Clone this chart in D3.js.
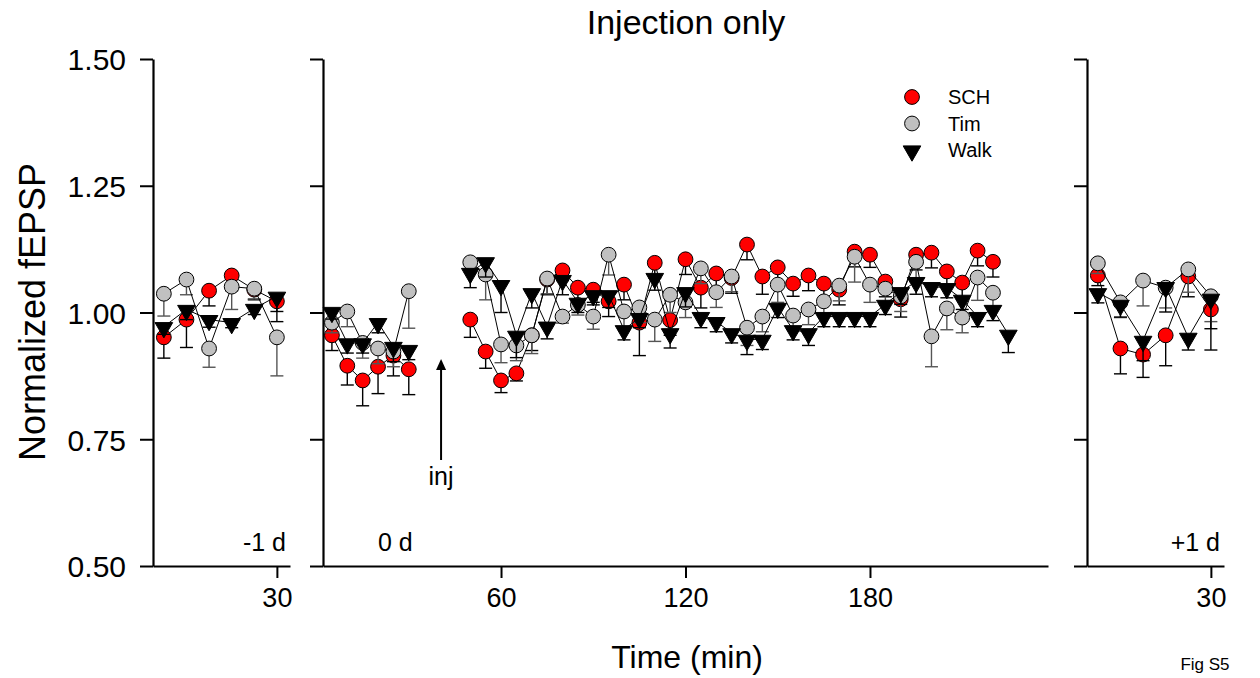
<!DOCTYPE html>
<html>
<head>
<meta charset="utf-8">
<script src="https://d3js.org/d3.v7.min.js"></script>
<style>
	body { margin: 0; background: #fff; }
	text { font-family: Arial, "Liberation Sans", sans-serif; fill: #000; }
</style>
</head>
<body>
<div id="chart"></div>
<script>

///////////////////////////////////////////////////////////////////////////
//////////////////////////////// Data /////////////////////////////////////
///////////////////////////////////////////////////////////////////////////

var seriesNames = ["SCH", "Tim", "Walk"];
var yTicks = [0.50, 0.75, 1.00, 1.25, 1.50];
var midTicks = [60, 120, 180];
var sideTicks = [30];

//baseline minutes (day -1, day 0 before injection, day +1)
var tBase = [5, 10, 15, 20, 25, 30];
//minutes after injection on day 0
var tPostSCH = [50, 55, 60, 65, 70, 75, 80, 85, 90, 95, 100, 105, 110, 115, 120, 125, 130, 135, 140, 145, 150, 155, 160, 165, 170, 175, 180, 185, 190, 195, 200, 205, 210, 215, 220];
var tPostTim = tPostSCH;
var tPostWalk = [50, 55, 60, 65, 70, 75, 80, 85, 90, 95, 100, 105, 110, 115, 120, 125, 130, 135, 140, 145, 150, 155, 160, 165, 170, 175, 180, 185, 190, 195, 200, 205, 210, 215, 220, 225];

//day -1
var dm1SCH = [0.951, 0.986, 1.043, 1.073, 1.045, 1.022];
var dm1SCHerr = [0.041, 0.055, 0.030, 0.030, 0.020, 0.040];
var dm1Tim = [1.037, 1.065, 0.929, 1.051, 1.047, 0.951];
var dm1TimErr = [0.044, 0.030, 0.037, 0.045, 0.020, 0.076];
var dm1Walk = [0.972, 1.006, 0.986, 0.980, 1.008, 1.032];
var dm1WalkErr = [0.015, 0.020, 0.015, 0.010, 0.012, 0.030];

//day 0, before injection
var d0preSCH = [0.955, 0.895, 0.866, 0.893, 0.915, 0.888];
var d0preSCHerr = [0.030, 0.038, 0.050, 0.053, 0.040, 0.050];
var d0preTim = [0.980, 1.002, 0.940, 0.929, 0.923, 1.042];
var d0preTimErr = [0.020, 0.030, 0.030, 0.030, 0.030, 0.073];
var d0preWalk = [1.002, 0.940, 0.940, 0.980, 0.933, 0.927];
var d0preWalkErr = [0.015, 0.020, 0.020, 0.020, 0.030, 0.020];

//day 0, after injection
var d0postSCH = [0.986, 0.923, 0.866, 0.880, 0.955, 1.065, 1.083, 1.049, 1.045, 1.022, 1.055, 0.980, 1.098, 0.985, 1.105, 1.049, 1.077, 1.068, 1.134, 1.071, 1.089, 1.057, 1.073, 1.057, 1.045, 1.120, 1.114, 1.061, 1.026, 1.114, 1.118, 1.081, 1.059, 1.122, 1.100];
var d0postSCHerr = [0.035, 0.033, 0.024, 0.015, 0.030, 0.030, 0.020, 0.025, 0.025, 0.030, 0.030, 0.065, 0.030, 0.030, 0.030, 0.040, 0.030, 0.030, 0.030, 0.035, 0.030, 0.025, 0.030, 0.030, 0.030, 0.030, 0.025, 0.030, 0.035, 0.030, 0.030, 0.030, 0.030, 0.030, 0.030];
var d0postTim = [1.099, 1.075, 0.937, 0.935, 0.955, 1.067, 0.992, 1.015, 0.992, 1.114, 1.002, 1.010, 0.986, 1.035, 1.020, 1.087, 1.040, 1.071, 0.970, 0.992, 1.055, 0.994, 1.006, 1.022, 1.053, 1.110, 1.055, 1.047, 1.032, 1.100, 0.953, 1.008, 0.990, 1.069, 1.039];
var d0postTimErr = [0.020, 0.050, 0.036, 0.030, 0.036, 0.030, 0.013, 0.020, 0.025, 0.040, 0.030, 0.030, 0.043, 0.035, 0.030, 0.030, 0.030, 0.030, 0.035, 0.030, 0.035, 0.025, 0.030, 0.030, 0.030, 0.050, 0.035, 0.025, 0.030, 0.040, 0.060, 0.042, 0.030, 0.045, 0.030];
var d0postWalk = [1.079, 1.100, 1.055, 0.955, 1.039, 0.973, 1.065, 1.020, 1.035, 1.035, 0.966, 0.990, 1.069, 0.960, 1.041, 0.992, 0.982, 0.960, 0.947, 0.947, 1.010, 0.966, 0.960, 0.992, 0.992, 0.992, 0.992, 1.016, 1.041, 1.061, 1.051, 1.049, 1.026, 0.992, 1.006, 0.957];
var d0postWalkErr = [0.030, 0.030, 0.055, 0.044, 0.030, 0.025, 0.030, 0.020, 0.020, 0.025, 0.020, 0.020, 0.025, 0.030, 0.030, 0.022, 0.020, 0.020, 0.030, 0.020, 0.020, 0.020, 0.025, 0.020, 0.020, 0.020, 0.020, 0.020, 0.025, 0.025, 0.020, 0.020, 0.020, 0.020, 0.022, 0.036];

//day +1
var dp1SCH = [1.073, 0.929, 0.917, 0.955, 1.071, 1.006];
var dp1SCHerr = [0.020, 0.050, 0.045, 0.060, 0.040, 0.080];
var dp1Tim = [1.097, 1.020, 1.063, 1.049, 1.085, 1.032];
var dp1TimErr = [0.020, 0.030, 0.050, 0.040, 0.045, 0.050];
var dp1Walk = [1.039, 1.016, 0.945, 1.051, 0.951, 1.028];
var dp1WalkErr = [0.020, 0.025, 0.040, 0.050, 0.025, 0.060];

///////////////////////////////////////////////////////////////////////////
//////////////////// Set up and initiate svg container ////////////////////
///////////////////////////////////////////////////////////////////////////

var width = 1260;
var height = 678;

var svg = d3.select("#chart")
	.append("svg")
	.attr("width", width)
	.attr("height", height);

var y = d3.scaleLinear().domain([0.5, 1.5]).range([566, 59]);

//three panels share the y scale
var xLeft = d3.scaleLinear().domain([2.6, 32.9]).range([153, 290]);
var xMid = d3.scaleLinear().domain([2.1, 237.9]).range([323, 1048]);
var xRight = d3.scaleLinear().domain([2.6, 32.9]).range([1087, 1224]);

var fills = { SCH: "#ff0000", Tim: "#c0c0c0", Walk: "#000000" };
var errColours = { SCH: "#000", Tim: "#555", Walk: "#000" };

///////////////////////////////////////////////////////////////////////////
//////////////////////////////// Axes /////////////////////////////////////
///////////////////////////////////////////////////////////////////////////

function drawAxes(x, ticks, showYLabels) {
	var gy = svg.append("g")
		.attr("transform", "translate(" + x.range()[0] + ",0)")
		.call(d3.axisLeft(y).tickValues(yTicks).tickSize(13).tickSizeOuter(0)
			.tickFormat(showYLabels ? d3.format(".2f") : ""));
	var gx = svg.append("g")
		.attr("transform", "translate(0," + y.range()[0] + ")")
		.call(d3.axisBottom(x).tickValues(ticks).tickSize(12).tickSizeOuter(0));

	[gy, gx].forEach(function(g) {
		g.select(".domain").attr("stroke-width", 2.2);
		g.selectAll(".tick line").attr("stroke-width", 2);
		g.selectAll(".tick text")
			.style("font-family", "Arial, 'Liberation Sans', sans-serif")
			.attr("fill", "#000");
	});
	gy.selectAll(".tick text").attr("x", -27).attr("dy", "0.36em").style("font-size", "30px");
	gx.selectAll(".tick text").attr("y", 22).style("font-size", "27px");
}

drawAxes(xLeft, sideTicks, true);
drawAxes(xMid, midTicks, false);
drawAxes(xRight, sideTicks, false);

///////////////////////////////////////////////////////////////////////////
//////////////////////////// Data series //////////////////////////////////
///////////////////////////////////////////////////////////////////////////

var triangle = d3.symbol().type(d3.symbolTriangle).size(135);

function makeSegment(x, t, v, e) {
	return t.map(function(d, i) { return { x: x(d), y: y(v[i]), yl: y(v[i] - e[i]) }; });
}

function drawSeries(name, segments) {
	var g = svg.append("g").attr("class", "series-" + name);

	segments.forEach(function(seg) {
		//lower error bars only
		var eb = g.selectAll(null).data(seg).enter().append("g")
			.attr("stroke", errColours[name])
			.attr("stroke-width", 1.4);
		eb.append("line")
			.attr("x1", function(d) { return d.x; })
			.attr("x2", function(d) { return d.x; })
			.attr("y1", function(d) { return d.y; })
			.attr("y2", function(d) { return d.yl; });
		eb.append("line")
			.attr("x1", function(d) { return d.x - 6.5; })
			.attr("x2", function(d) { return d.x + 6.5; })
			.attr("y1", function(d) { return d.yl; })
			.attr("y2", function(d) { return d.yl; });

		g.append("path")
			.datum(seg)
			.attr("fill", "none")
			.attr("stroke", "#000")
			.attr("stroke-width", 1)
			.attr("d", d3.line().x(function(d) { return d.x; }).y(function(d) { return d.y; }));
	});

	segments.forEach(function(seg) {
		if (name === "Walk") {
			g.selectAll(null).data(seg).enter().append("path")
				.attr("d", triangle)
				.attr("transform", function(d) { return "translate(" + d.x + "," + (d.y + 1) + ") rotate(180)"; })
				.attr("fill", fills[name])
				.attr("stroke", "#000")
				.attr("stroke-width", 1);
		} else {
			g.selectAll(null).data(seg).enter().append("circle")
				.attr("cx", function(d) { return d.x; })
				.attr("cy", function(d) { return d.y; })
				.attr("r", 7.4)
				.attr("fill", fills[name])
				.attr("stroke", "#000")
				.attr("stroke-width", 1);
		}
	});
}

drawSeries("SCH", [
	makeSegment(xLeft, tBase, dm1SCH, dm1SCHerr),
	makeSegment(xMid, tBase, d0preSCH, d0preSCHerr),
	makeSegment(xMid, tPostSCH, d0postSCH, d0postSCHerr),
	makeSegment(xRight, tBase, dp1SCH, dp1SCHerr)
]);
drawSeries("Tim", [
	makeSegment(xLeft, tBase, dm1Tim, dm1TimErr),
	makeSegment(xMid, tBase, d0preTim, d0preTimErr),
	makeSegment(xMid, tPostTim, d0postTim, d0postTimErr),
	makeSegment(xRight, tBase, dp1Tim, dp1TimErr)
]);
drawSeries("Walk", [
	makeSegment(xLeft, tBase, dm1Walk, dm1WalkErr),
	makeSegment(xMid, tBase, d0preWalk, d0preWalkErr),
	makeSegment(xMid, tPostWalk, d0postWalk, d0postWalkErr),
	makeSegment(xRight, tBase, dp1Walk, dp1WalkErr)
]);

///////////////////////////////////////////////////////////////////////////
////////////////////////// Labels and legend //////////////////////////////
///////////////////////////////////////////////////////////////////////////

svg.append("text")
	.attr("x", 686).attr("y", 34)
	.attr("text-anchor", "middle")
	.style("font-size", "34px")
	.text("Injection only");

svg.append("text")
	.attr("transform", "translate(45,312) rotate(-90)")
	.attr("text-anchor", "middle")
	.style("font-size", "36px")
	.text("Normalized fEPSP");

svg.append("text")
	.attr("x", 687).attr("y", 668)
	.attr("text-anchor", "middle")
	.style("font-size", "32px")
	.text("Time (min)");

svg.append("text").attr("x", 286).attr("y", 551).attr("text-anchor", "end").style("font-size", "25px").text("-1 d");
svg.append("text").attr("x", 378).attr("y", 551).style("font-size", "25px").text("0 d");
svg.append("text").attr("x", 1220).attr("y", 551).attr("text-anchor", "end").style("font-size", "25px").text("+1 d");

svg.append("text").attr("x", 1205).attr("y", 670).attr("text-anchor", "middle").style("font-size", "17px").text("Fig S5");

//injection arrow
svg.append("line")
	.attr("x1", xMid(40.5)).attr("x2", xMid(40.5))
	.attr("y1", 460).attr("y2", 368)
	.attr("stroke", "#000").attr("stroke-width", 2);
svg.append("path")
	.attr("d", "M" + (xMid(40.5) - 5) + ",370 L" + xMid(40.5) + ",359 L" + (xMid(40.5) + 5) + ",370 Z")
	.attr("fill", "#000");
svg.append("text")
	.attr("x", xMid(40.5)).attr("y", 485)
	.attr("text-anchor", "middle")
	.style("font-size", "25px")
	.text("inj");

var legend = svg.append("g").attr("class", "legend");
seriesNames.forEach(function(name, i) {
	var ly = 97 + i * 26.5;
	if (name === "Walk") {
		legend.append("path")
			.attr("d", triangle)
			.attr("transform", "translate(912," + (ly + 1) + ") rotate(180)")
			.attr("fill", fills[name]).attr("stroke", "#000");
	} else {
		legend.append("circle")
			.attr("cx", 912).attr("cy", ly).attr("r", 7.4)
			.attr("fill", fills[name]).attr("stroke", "#000");
	}
	legend.append("text")
		.attr("x", 948).attr("y", ly + 7)
		.style("font-size", "20px")
		.text(name);
});

</script>
</body>
</html>
